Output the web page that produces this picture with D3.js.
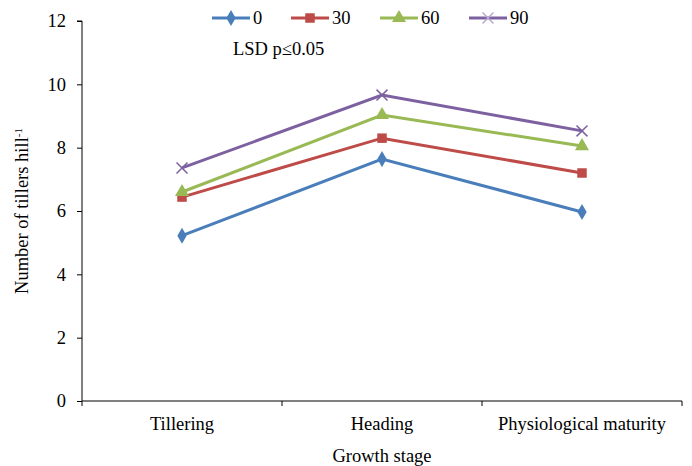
<!DOCTYPE html>
<html>
<head>
<meta charset="utf-8">
<script src="https://cdn.jsdelivr.net/npm/d3@7"></script>
<style>
body { margin: 0; background: #fff; }
</style>
</head>
<body>
<svg id="chart" width="692" height="466"></svg>
<script>
var stages = ['Tillering', 'Heading', 'Physiological maturity'];
var seriesNames = ['0', '30', '60', '90'];
var values0 = [5.22, 7.64, 5.97];
var values30 = [6.44, 8.30, 7.20];
var values60 = [6.60, 9.03, 8.05];
var values90 = [7.36, 9.66, 8.53];
var yTicks = [0, 2, 4, 6, 8, 10, 12];
var colors = ['#4a7ebb', '#be4b48', '#98b954', '#7d60a0'];
var symbols = [d3.symbolDiamond, d3.symbolSquare, d3.symbolTriangle, d3.symbolX];
var sizes = [75, 90, 85, 80];

var allValues = [values0, values30, values60, values90];
var FONT = 'Liberation Serif';
var FS = 18.5;

var svg = d3.select('#chart')
    .attr('font-family', FONT);
var margin = {left: 82, right: 10, top: 21, bottom: 65};
var width = 692 - margin.left - margin.right;
var height = 466 - margin.top - margin.bottom;

var g = svg.append('g').attr('transform', 'translate(' + margin.left + ',' + margin.top + ')');

var x = d3.scaleBand().domain(stages).range([0, width]);
var y = d3.scaleLinear().domain([0, 12]).range([height, 0]);

// y axis
var yAxis = g.append('g')
    .call(d3.axisLeft(y).tickValues(yTicks).tickSize(5).tickPadding(11));
yAxis.attr('font-family', FONT).attr('font-size', FS);
yAxis.selectAll('text').attr('fill', '#000');
yAxis.selectAll('line, path').attr('stroke', '#000');
yAxis.select('.domain').attr('d', 'M0,' + height + 'V0H-5');

// x axis with ticks at category boundaries
var xAxis = g.append('g').attr('transform', 'translate(0,' + height + ')');
xAxis.append('line').attr('x1', 0).attr('x2', width).attr('stroke', '#000');
var bounds = stages.map(function(s) { return x(s); }).concat([width]);
xAxis.selectAll('.tk').data(bounds).enter().append('line')
    .attr('x1', function(d) { return d; }).attr('x2', function(d) { return d; })
    .attr('y1', 0).attr('y2', 5).attr('stroke', '#000');
xAxis.selectAll('.lbl').data(stages).enter().append('text')
    .attr('x', function(d) { return x(d) + x.bandwidth() / 2; })
    .attr('y', 29)
    .attr('text-anchor', 'middle')
    .attr('font-family', FONT).attr('font-size', FS)
    .text(function(d) { return d; });

// lines
var line = d3.line()
    .x(function(d, i) { return x(stages[i]) + x.bandwidth() / 2; })
    .y(function(d) { return y(d); });

allValues.forEach(function(vals, k) {
    g.append('path').datum(vals)
        .attr('d', line)
        .attr('fill', 'none')
        .attr('stroke', colors[k])
        .attr('stroke-width', 3);
    g.selectAll('.m' + k).data(vals).enter().append('path')
        .attr('transform', function(d, i) {
            return 'translate(' + (x(stages[i]) + x.bandwidth() / 2) + ',' + y(d) + ')';
        })
        .attr('d', d3.symbol().type(symbols[k]).size(sizes[k]))
        .attr('fill', k == 3 ? 'none' : colors[k])
        .attr('stroke', k == 3 ? colors[k] : 'none')
        .attr('stroke-width', 1.5);
});

// legend
var legendX = [212, 291, 380, 469];
var legend = svg.append('g');
seriesNames.forEach(function(name, k) {
    var lg = legend.append('g').attr('transform', 'translate(' + legendX[k] + ',18)');
    lg.append('line').attr('x1', 0).attr('x2', 38)
        .attr('stroke', colors[k]).attr('stroke-width', 3);
    lg.append('path').attr('transform', 'translate(19,0)')
        .attr('d', d3.symbol().type(symbols[k]).size(sizes[k]))
        .attr('fill', k == 3 ? 'none' : colors[k])
        .attr('stroke', k == 3 ? '#b9a8d0' : 'none')
        .attr('stroke-width', 1.5);
    lg.append('text').attr('x', 41).attr('y', 6)
        .attr('font-family', FONT).attr('font-size', FS).text(name);
});

svg.append('text').attr('x', 233).attr('y', 55)
    .attr('font-family', FONT).attr('font-size', FS).text('LSD p\u22640.05');

// axis titles
svg.append('text').attr('x', 382).attr('y', 462)
    .attr('text-anchor', 'middle').attr('font-family', FONT).attr('font-size', FS)
    .text('Growth stage');

var yt = svg.append('text')
    .attr('transform', 'translate(28,' + (margin.top + height / 2) + ') rotate(-90)')
    .attr('text-anchor', 'middle').attr('font-family', FONT).attr('font-size', FS);
yt.append('tspan').text('Number of tillers hill');
yt.append('tspan').attr('dy', -6).attr('font-size', 11).text('-1');
</script>
</body>
</html>
